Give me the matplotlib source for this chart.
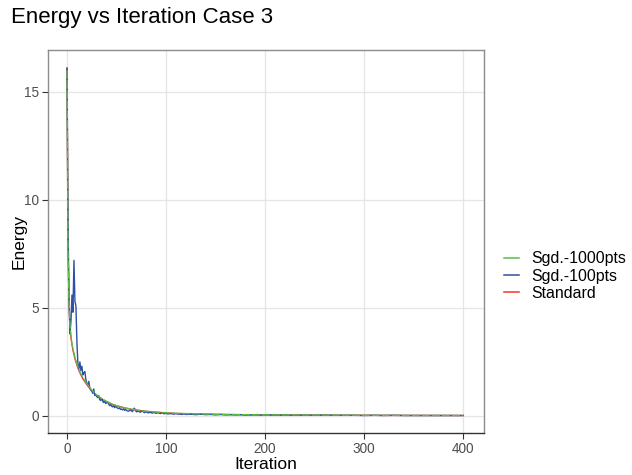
import matplotlib
matplotlib.use('Agg')
import matplotlib.pyplot as plt
from matplotlib.lines import Line2D

plt.rcParams['font.family'] = ['Liberation Sans', 'DejaVu Sans']

# Standard (smooth decay)
std_iter = [0, 1, 2, 3, 4, 5, 6, 7, 8, 10, 12, 14, 16, 18, 20, 25, 30, 35, 40,
            45, 50, 60, 70, 80, 90, 100, 120, 140, 160, 180, 200, 250, 300,
            350, 400]
std_energy = [16.1, 8.0, 5.2, 4.1, 3.6, 3.3, 3.05, 2.85, 2.65, 2.35, 2.1, 1.9,
              1.72, 1.58, 1.45, 1.15, 0.95, 0.78, 0.65, 0.55, 0.47, 0.35, 0.27,
              0.21, 0.17, 0.14, 0.10, 0.08, 0.065, 0.055, 0.048, 0.035, 0.028,
              0.023, 0.02]

# Sgd.-1000pts (close to standard, little noise)
g_iter = [0, 1, 2, 3, 4, 5, 6, 7, 8, 9, 10, 12, 14, 16, 18, 20, 22, 25, 28,
          30, 33, 36, 40, 44, 48, 52, 56, 60, 65, 70, 75, 80, 90, 100, 110,
          120, 140, 160, 180, 200, 250, 300, 350, 400]
g_energy = [16.0, 7.6, 5.4, 4.2, 3.7, 3.35, 3.1, 2.9, 2.7, 2.55, 2.4, 2.15,
            1.95, 1.78, 1.62, 1.5, 1.38, 1.2, 1.05, 0.97, 0.87, 0.78, 0.67,
            0.58, 0.5, 0.45, 0.4, 0.36, 0.31, 0.28, 0.24, 0.22, 0.18, 0.15,
            0.12, 0.11, 0.09, 0.07, 0.06, 0.05, 0.04, 0.03, 0.025, 0.02]

# Sgd.-100pts (noisy)
b_iter = list(range(0, 61)) + list(range(62, 121, 2)) + \
    list(range(125, 201, 5)) + list(range(210, 401, 10))
b_energy = [16.1, 9.0, 5.5, 3.8, 4.4, 5.6, 4.8, 7.2, 5.3, 5.1,
            3.4, 2.4, 2.2, 2.5, 2.1, 2.3, 1.9, 2.0, 2.05, 1.7,
            1.5, 1.45, 1.6, 1.3, 1.2, 1.15, 1.05, 1.25, 0.95, 1.0,
            0.9, 0.85, 0.95, 0.75, 0.72, 0.8, 0.68, 0.62, 0.7, 0.58,
            0.6, 0.66, 0.55, 0.48, 0.52, 0.45, 0.42, 0.5, 0.38, 0.45,
            0.4, 0.36, 0.34, 0.38, 0.3, 0.32, 0.28, 0.33, 0.26, 0.3,
            0.25,
            0.22, 0.27, 0.2, 0.36, 0.19, 0.22, 0.17, 0.24, 0.15, 0.19,
            0.14, 0.17, 0.13, 0.16, 0.12, 0.15, 0.11, 0.14, 0.10, 0.12,
            0.09, 0.11, 0.10, 0.08, 0.11, 0.08, 0.09, 0.07, 0.09, 0.07,
            0.08, 0.06, 0.08, 0.06, 0.07, 0.05, 0.07, 0.05, 0.06, 0.05,
            0.06, 0.04, 0.05, 0.05, 0.04, 0.05,
            0.04, 0.04, 0.03, 0.04, 0.03, 0.04, 0.03, 0.03, 0.03, 0.02,
            0.03, 0.02, 0.03, 0.02, 0.02, 0.02, 0.02, 0.02, 0.02, 0.02]

fig = plt.figure(figsize=(6.32, 4.75), dpi=100)
ax = fig.add_axes([48 / 632, 1 - 433 / 475, 436 / 632, 383 / 475])

ax.plot(std_iter, std_energy, color='#F8312F', lw=1.0)
ax.plot(b_iter, b_energy, color='#2E4FA8', lw=1.0)
ax.plot(g_iter, g_energy, color='#5CBF3F', lw=1.0, dashes=(6, 1.2))

ax.set_xlim(-19.2, 421)
ax.set_ylim(-0.79, 16.94)
ax.set_xticks([0, 100, 200, 300, 400])
ax.set_yticks([0, 5, 10, 15])
ax.grid(True, color='#E5E5E5', lw=0.9)
ax.set_axisbelow(True)
for side in ['top', 'right', 'left']:
    ax.spines[side].set_color('#8C8C8C')
    ax.spines[side].set_linewidth(1.0)
ax.spines['bottom'].set_color('#333333')
ax.spines['bottom'].set_linewidth(1.0)
ax.tick_params(colors='#333333', labelcolor='#4D4D4D', labelsize=9.8,
               length=4, width=0.8, pad=2.5)

ax.set_xlabel('Iteration', fontsize=12.5)
ax.set_ylabel('Energy', fontsize=12.5)
ax.xaxis.set_label_coords(0.5, -0.062)
ax.yaxis.set_label_coords(-0.05, 0.5)
fig.text(11 / 632, 1 - 18 / 475, 'Energy vs Iteration Case 3',
         fontsize=16, va='center', ha='left')

handles = [Line2D([], [], color='#5CBF3F', lw=1.1),
           Line2D([], [], color='#2E4FA8', lw=1.1),
           Line2D([], [], color='#F8312F', lw=1.1)]
fig.legend(handles, ['Sgd.-1000pts', 'Sgd.-100pts', 'Standard'],
           loc='center left', bbox_to_anchor=(498 / 632, 1 - 276 / 475),
           frameon=False, fontsize=11.4, handlelength=0.95,
           handletextpad=0.75, labelspacing=0.15, borderaxespad=0)

fig.savefig('out.png', dpi=100)
